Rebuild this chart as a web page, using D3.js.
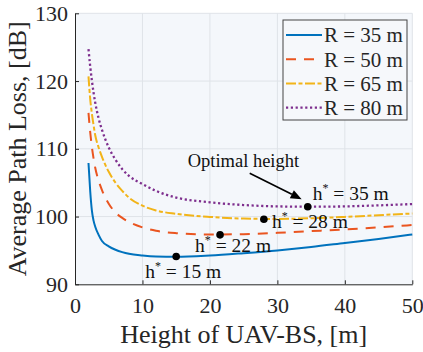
<!DOCTYPE html>
<html>
<head>
<meta charset="utf-8">
<script src="https://cdn.jsdelivr.net/npm/d3@7"></script>
</head>
<body style="margin:0;padding:0;background:#ffffff">
<svg id="chart" width="423" height="352" style="display:block"></svg>
<script>
// ---------- data ----------
const heights = [2, 2.25, 2.5, 2.75, 3, 3.5, 4, 5, 6, 7, 8, 10, 12, 15, 20, 25, 30, 35, 40, 45, 50];
const lossR35 = [107.9, 103.8, 100.9, 99.4, 98.5, 97.3, 96.4, 95.6, 95.1, 94.75, 94.5, 94.25, 94.1, 94.05, 94.25, 94.6, 95.0, 95.5, 96.1, 96.7, 97.35];
const lossR50 = [115.3, 112.5, 110.3, 108.6, 107.2, 105.3, 103.9, 101.9, 100.6, 99.8, 99.2, 98.4, 97.9, 97.55, 97.35, 97.4, 97.6, 97.85, 98.1, 98.4, 98.75];
const lossR65 = [120.7, 117.4, 115.2, 113.5, 112.0, 110.2, 108.8, 106.6, 105.0, 103.8, 102.8, 101.6, 100.9, 100.4, 99.95, 99.7, 99.65, 99.75, 99.95, 100.2, 100.45];
const lossR80 = [124.7, 122.2, 120.1, 118.3, 116.8, 114.5, 112.8, 110.2, 108.4, 107.0, 106.0, 104.8, 103.8, 102.8, 102.1, 101.7, 101.5, 101.45, 101.5, 101.65, 101.85];
const seriesNames = ["R = 35 m", "R = 50 m", "R = 65 m", "R = 80 m"];
const optHeights = [15, 21.5, 28, 34.5];
const optLoss = [94.1, 97.3, 99.6, 101.45];
const optLabels = ["15", "22", "28", "35"];
const xTicks = [0, 10, 20, 30, 40, 50];
const yTicks = [90, 100, 110, 120, 130];

// ---------- styles ----------
const FONT = "Liberation Serif";
const colors = ["#0072BD", "#EA5520", "#F2B418", "#7E2F8E"];
const dashes = [null, "10,8", "10,2.5,4,2.5", "2.2,2.6"];
const labelOffsets = [[-31, 21], [-25, 17], [8, 9], [5, -7]];

const svg = d3.select("#chart").attr("font-family", FONT);
const M = { left: 75, right: 423 - 412.3, top: 13.3, bottom: 352 - 284.3 };
const W = 423 - M.left - M.right, H = 352 - M.top - M.bottom;
const g = svg.append("g").attr("transform", `translate(${M.left},${M.top})`);

const x = d3.scaleLinear().domain([0, 50]).range([0, W]);
const y = d3.scaleLinear().domain([90, 130]).range([H, 0]);

// background
g.append("rect").attr("width", W).attr("height", H).attr("fill", "#f4f7fb");

// grid
g.append("g").selectAll("line").data(xTicks.slice(1, -1)).join("line")
  .attr("x1", d => x(d)).attr("x2", d => x(d)).attr("y1", 0).attr("y2", H)
  .attr("stroke", "#dfe3e8").attr("stroke-width", 1);
g.append("g").selectAll("line").data(yTicks.slice(1, -1)).join("line")
  .attr("y1", d => y(d)).attr("y2", d => y(d)).attr("x1", 0).attr("x2", W)
  .attr("stroke", "#dfe3e8").attr("stroke-width", 1);
g.append("path").attr("d", `M0,0H${W}V${H}`).attr("fill", "none").attr("stroke", "#dfe3e8").attr("stroke-width", 1);

// curves
const allSeries = [lossR35, lossR50, lossR65, lossR80];
const line = d3.line().x(d => x(d[0])).y(d => y(d[1])).curve(d3.curveMonotoneX);
allSeries.forEach((vals, i) => {
  g.append("path")
    .datum(heights.map((h, j) => [h, vals[j]]))
    .attr("d", line)
    .attr("fill", "none")
    .attr("stroke", colors[i])
    .attr("stroke-width", i === 3 ? 2.3 : 2)
    .attr("stroke-dasharray", dashes[i]);
});

// axes
const xAxis = g.append("g").attr("transform", `translate(0,${H})`)
  .call(d3.axisBottom(x).tickValues(xTicks).tickSizeInner(-4).tickSizeOuter(0).tickPadding(10));
const yAxis = g.append("g")
  .call(d3.axisLeft(y).tickValues(yTicks).tickSizeInner(-4).tickSizeOuter(0).tickPadding(10));
[xAxis, yAxis].forEach(a => {
  a.attr("font-family", FONT).attr("font-size", 22);
  a.select(".domain").attr("stroke", "#262626").attr("stroke-width", 1);
  a.selectAll(".tick line").attr("stroke", "#262626");
  a.selectAll(".tick text").attr("fill", "#262626");
});
xAxis.selectAll(".tick text").attr("dy", "0.71em").attr("y", 13);
yAxis.selectAll(".tick text").attr("x", -7);

// axis labels
svg.append("text").attr("x", M.left + W / 2).attr("y", 343)
  .attr("text-anchor", "middle").attr("font-size", 26).attr("fill", "#262626").text("Height of UAV-BS, [m]");
svg.append("text").attr("transform", `translate(26,${M.top + H / 2}) rotate(-90)`)
  .attr("text-anchor", "middle").attr("font-size", 26).attr("fill", "#262626").text("Average Path Loss, [dB]");

// optimal points
optHeights.forEach((h, i) => {
  const cx = x(h), cy = y(optLoss[i]);
  g.append("circle").attr("cx", cx).attr("cy", cy).attr("r", 3.8).attr("fill", "#000");
  const t = g.append("text").attr("x", cx + labelOffsets[i][0]).attr("y", cy + labelOffsets[i][1])
    .attr("font-size", 19.5).attr("fill", "#111");
  t.append("tspan").text("h");
  t.append("tspan").attr("font-size", 12).attr("dy", -8).text("*");
  t.append("tspan").attr("dy", 8).text(" = " + optLabels[i] + " m");
});

// annotation
g.append("text").attr("x", x(16.7)).attr("y", y(107.3)).attr("font-size", 18.5).attr("fill", "#111").text("Optimal height");
const ax1 = x(25.9), ay1 = y(106.4), ax2 = x(33.6), ay2 = y(102.55);
const ang = Math.atan2(ay2 - ay1, ax2 - ax1);
const hl = 11, hw = 4.5;
const bx = ax2 - hl * Math.cos(ang), by = ay2 - hl * Math.sin(ang);
g.append("line").attr("x1", ax1).attr("y1", ay1).attr("x2", bx).attr("y2", by).attr("stroke", "#000").attr("stroke-width", 1.6);
g.append("path").attr("d", `M${ax2},${ay2}L${bx - hw * Math.sin(ang)},${by + hw * Math.cos(ang)}L${bx + hw * Math.sin(ang)},${by - hw * Math.cos(ang)}Z`).attr("fill", "#000");

// legend
const lg = svg.append("g").attr("transform", "translate(283,20)");
lg.append("rect").attr("width", 124).attr("height", 100).attr("fill", "#f6f8fb").attr("stroke", "#444").attr("stroke-width", 1);
seriesNames.forEach((name, i) => {
  const ly = 15 + i * 24.2;
  lg.append("line").attr("x1", 3).attr("x2", 39).attr("y1", ly).attr("y2", ly)
    .attr("stroke", colors[i]).attr("stroke-width", i === 3 ? 2.3 : 2).attr("stroke-dasharray", dashes[i]);
  lg.append("text").attr("x", 41).attr("y", ly).attr("dy", "0.35em").attr("font-size", 21).attr("fill", "#262626").text(name);
});

svg.selectAll("text").attr("font-family", FONT);
</script>
</body>
</html>
